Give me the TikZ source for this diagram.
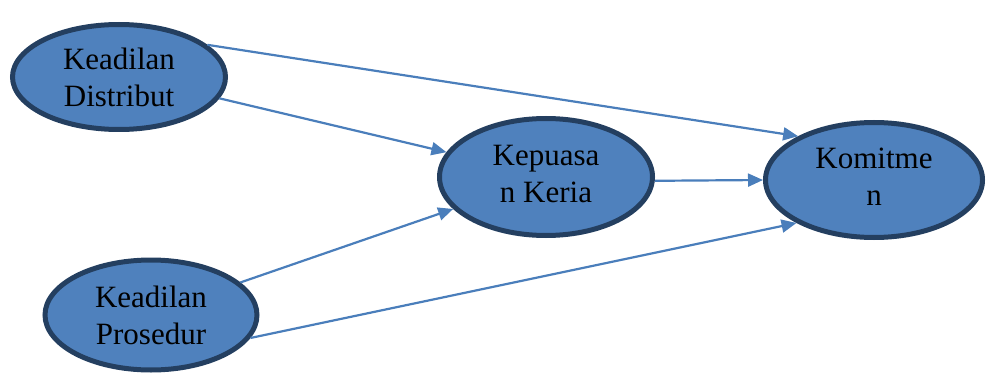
\documentclass[tikz,border=0pt]{standalone}
\usepackage{fontspec}
\setmainfont{Liberation Serif}
\usepackage{tikz}
\usetikzlibrary{arrows.meta,shapes.geometric}
\definecolor{varfill}{HTML}{4F81BD}
\definecolor{varedge}{HTML}{243F60}
\definecolor{pathblue}{HTML}{4A7EBB}
\tikzset{
  varnode/.style={ellipse,draw=varedge,line width=5pt,fill=varfill,font=\fontsize{31}{37}\selectfont,align=center,inner sep=0pt},
  pathline/.style={-{Triangle[length=15pt,width=13pt]},draw=pathblue,line width=2.2pt}
}
\begin{document}
\begin{tikzpicture}[x=1pt,y=-1pt]
\useasboundingbox (0,0) rectangle (992,374);
\node[varnode,minimum width=213pt,minimum height=105pt] (kd) at (119,77) {Keadilan\\Distribut};
\node[varnode,minimum width=212pt,minimum height=110pt] (kp) at (151,315) {Keadilan\\Prosedur};
\node[varnode,minimum width=213pt,minimum height=117pt] (kep) at (546,177) {\raisebox{-6pt}{\begin{tabular}{@{}c@{}}Kepuasa\\n Keria\end{tabular}}};
\node[varnode,minimum width=217pt,minimum height=115pt] (kom) at (874,180) {\raisebox{-6pt}{\begin{tabular}{@{}c@{}}Komitme\\n\end{tabular}}};
\draw[pathline] (kd.20) -- (kom.150);
\draw[pathline] (kd.-12) -- (kep.166);
\draw[pathline] (kp.20) -- (kep.-161);
\draw[pathline] (kp.-13) -- (kom.209);
\draw[pathline] (kep.-2) -- (kom.180);
\end{tikzpicture}
\end{document}
